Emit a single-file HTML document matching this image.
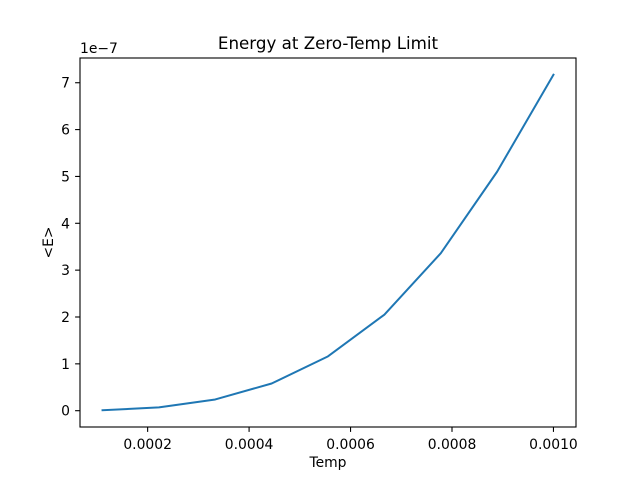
<!DOCTYPE html>
<html><head><meta charset="utf-8"><style>
body{margin:0;background:#fff}
svg{font-family:"DejaVu Sans","Liberation Sans",sans-serif}
</style></head><body>
<svg id="chart" width="640" height="480" viewBox="0 0 640 480">
<rect width="640" height="480" fill="#fff"/>
<g id="plot"></g>
</svg>
<script>
const temps = [1,2,3,4,5,6,7,8,9].map(k => k/9000);
const energies = [0.01, 0.07, 0.24, 0.58, 1.16, 2.05, 3.36, 5.10, 7.17]; // x1e-7
const xTicks = [0.0002, 0.0004, 0.0006, 0.0008, 0.0010];
const xTickLabels = ["0.0002","0.0004","0.0006","0.0008","0.0010"];
const yTicks = [0,1,2,3,4,5,6,7];
const yTickLabels = ["0","1","2","3","4","5","6","7"];

const L=80,R=576,T=58,B=427;
const xmin0=Math.min(...temps), xmax0=Math.max(...temps), xr=xmax0-xmin0;
const xmin=xmin0-0.05*xr, xmax=xmax0+0.05*xr;
const ymin0=Math.min(...energies), ymax0=Math.max(...energies), yr=ymax0-ymin0;
const ymin=ymin0-0.05*yr, ymax=ymax0+0.05*yr;
const X=v=>L+(v-xmin)/(xmax-xmin)*(R-L);
const Y=v=>B-(v-ymin)/(ymax-ymin)*(B-T);
const NS="http://www.w3.org/2000/svg";
const g=document.getElementById('plot');
function mk(tag,attrs,text){const e=document.createElementNS(NS,tag);for(const k in attrs)e.setAttribute(k,attrs[k]);if(text!==undefined)e.textContent=text;g.appendChild(e);return e;}

xTicks.forEach((t,i)=>{
  const x=X(t);
  const tk=mk('line',{x1:x,x2:x,y1:B,y2:B+4.9,stroke:'#000','stroke-width':1.1});
  
  
  const lb=mk('text',{x:x,y:B+22,'font-size':13.9,'text-anchor':'middle',fill:'#000'},xTickLabels[i]);
  
  
});
yTicks.forEach((t,i)=>{
  const y=Y(t);
  const tk=mk('line',{x1:L-4.9,x2:L,y1:y,y2:y,stroke:'#000','stroke-width':1.1});
  
  
  const lb=mk('text',{x:L-10,y:y+5,'font-size':13.9,'text-anchor':'end',fill:'#000'},yTickLabels[i]);
  
  
});
const pts=temps.map((t,i)=>X(t).toFixed(2)+','+Y(energies[i]).toFixed(2)).join(' ');
const line=mk('polyline',{points:pts,fill:'none',stroke:'#1f77b4','stroke-width':2,'stroke-linejoin':'round','stroke-linecap':'square'});


const frame=mk('rect',{x:L,y:T,width:R-L,height:B-T,fill:'none',stroke:'#000','stroke-width':1.1});


const off=mk('text',{x:L,y:T-5,'font-size':13.9,fill:'#000'},'1e\u22127');


const title=mk('text',{x:(L+R)/2,y:T-9,'font-size':16.7,'text-anchor':'middle',fill:'#000'},'Energy at Zero-Temp Limit');


const xl=mk('text',{x:(L+R)/2,y:467,'font-size':13.9,'text-anchor':'middle',fill:'#000'},'Temp');


const yl=mk('text',{x:0,y:0,'font-size':13.9,'text-anchor':'middle',fill:'#000',transform:`translate(53,${(T+B)/2}) rotate(-90)`},'<E>');


</script>
</body></html>
